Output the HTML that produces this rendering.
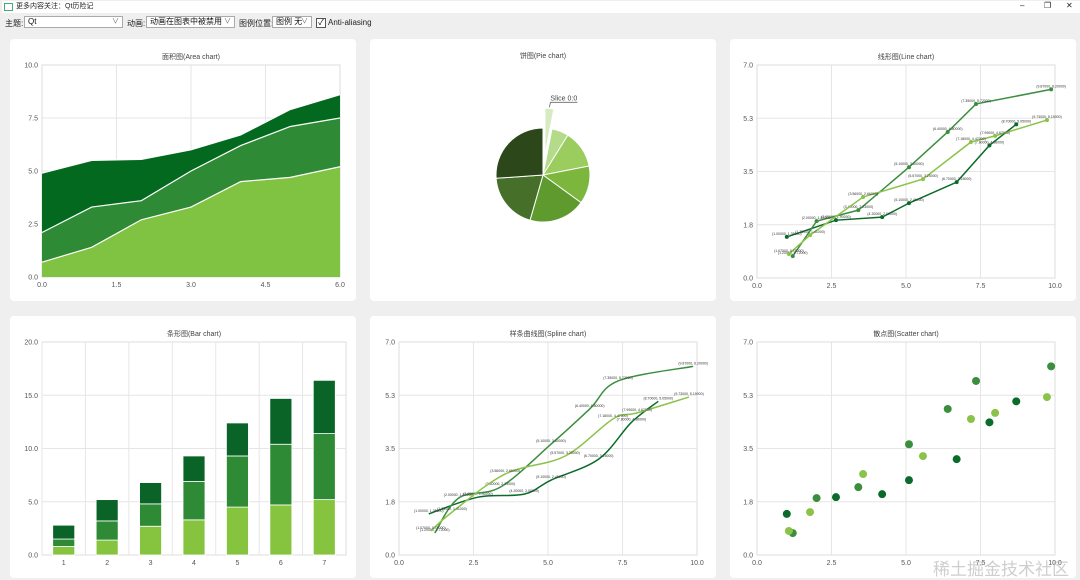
<!DOCTYPE html>
<html><head><meta charset="utf-8"><style>
body{margin:0;width:1080px;height:580px;background:#efefef;font-family:"Liberation Sans","Noto Sans CJK SC",sans-serif;overflow:hidden;position:relative}
.tb{position:absolute;font-size:8px;color:#222}
.combo{position:absolute;top:16px;height:12px;background:#fff;border:1px solid #aaa;box-sizing:border-box;font-size:8px;line-height:10px;padding-left:3px;color:#111}
.combo span.ch{position:absolute;right:3px;top:0;color:#666;font-size:7px}
.panel{position:absolute;background:#fff;border-radius:4px}
</style></head><body>
<div class="tb" style="left:2px;top:1px;width:1080px;height:12px;background:#fff">
 <span style="display:inline-block;width:7px;height:6px;border:1px solid #4a7;margin:2px 3px 0 2px;vertical-align:top"></span><span style="font-size:7px;vertical-align:top;line-height:11px">更多内容关注：Qt历险记</span>
 <span style="position:absolute;left:1018px;top:0;font-size:8px">–</span>
 <span style="position:absolute;left:1042px;top:0;font-size:8px">❐</span>
 <span style="position:absolute;left:1064px;top:0;font-size:8px">✕</span>
</div>
<div class="tb" style="left:5px;top:18px">主题:</div>
<div class="combo" style="left:24px;width:99px">Qt<span class="ch">∨</span></div>
<div class="tb" style="left:127px;top:18px">动画:</div>
<div class="combo" style="left:146px;width:89px">动画在图表中被禁用<span class="ch">∨</span></div>
<div class="tb" style="left:239px;top:18px">图例位置:</div>
<div class="combo" style="left:272px;width:40px">图例 无<span class="ch">∨</span></div>
<div style="position:absolute;left:316px;top:18px;width:8px;height:8px;border:1px solid #555;background:#fff;font-size:8px;line-height:8px;text-align:center">✓</div>
<div class="tb" style="left:328px;top:18px">Anti-aliasing</div>

<div class="panel" style="left:10px;top:39px;width:346px;height:262px"></div>
<div class="panel" style="left:370px;top:39px;width:346px;height:262px"></div>
<div class="panel" style="left:730px;top:39px;width:346px;height:262px"></div>
<div class="panel" style="left:10px;top:316px;width:346px;height:262px"></div>
<div class="panel" style="left:370px;top:316px;width:346px;height:262px"></div>
<div class="panel" style="left:730px;top:316px;width:346px;height:262px"></div>

<svg id="s" width="1080" height="580" style="position:absolute;left:0;top:0" xmlns="http://www.w3.org/2000/svg"></svg>
<div style="position:absolute;left:933px;top:555px;font-size:17px;color:rgba(185,185,185,0.7);white-space:nowrap">稀土掘金技术社区</div>

<script>
const areaX=[0,1,2,3,4,5,6];
const areaLow=[0.7,1.4,2.7,3.3,4.5,4.7,5.2];
const areaMid=[2.1,3.3,3.6,5.0,6.2,7.1,7.5];
const areaHigh=[4.9,5.5,5.55,6.0,6.7,7.9,8.6];
const areaXTicks=[0,1.5,3,4.5,6];
const areaYTicks=[0,2.5,5,7.5,10];

const pieValues=[11,21,47,47,70,70,94];
const pieLabel="Slice 0:0";

const seriesDarkX=[1.0,2.65,4.2,5.1,6.7,7.8,8.7];
const seriesDarkY=[1.35,1.9,2.0,2.46,3.15,4.36,5.05];
const seriesMidX=[1.2,2.0,3.4,5.1,6.4,7.35,9.87];
const seriesMidY=[0.72,1.87,2.23,3.64,4.8,5.72,6.2];
const seriesLightX=[1.07,1.78,3.56,5.57,7.18,7.99,9.73];
const seriesLightY=[0.79,1.41,2.66,3.25,4.47,4.67,5.19];
const xyXTicks=[0,2.5,5,7.5,10];
const xyYTicks=[0,1.75,3.5,5.25,7];
const xyYLabels=["0.0","1.8","3.5","5.3","7.0"];

const barCats=["1","2","3","4","5","6","7"];
const barLow=[0.8,1.4,2.7,3.3,4.5,4.7,5.2];
const barMid=[0.7,1.8,2.1,3.6,4.8,5.7,6.2];
const barHigh=[1.3,2.0,2.0,2.4,3.1,4.3,5.0];
const barYTicks=[0,5,10,15,20];

const S=document.getElementById('s');
const NS="http://www.w3.org/2000/svg";
function el(tag,attrs,parent){const e=document.createElementNS(NS,tag);for(const k in attrs)e.setAttribute(k,attrs[k]);(parent||S).appendChild(e);return e;}
function txt(x,y,str,size,anchor,fill,parent){const t=el('text',{x:x,y:y,'font-size':size,'text-anchor':anchor||'middle',fill:fill||'#555','font-family':'"Liberation Sans","Noto Sans CJK SC",sans-serif'},parent);t.textContent=str;return t;}
function lin(d0,d1,r0,r1){return v=>r0+(v-d0)/(d1-d0)*(r1-r0);}

function frame(title,px0,px1,py0,py1,xt,xl,yt,yl,sx,sy,name){
  const g=el('g',{});
  
  
  const t=txt((px0+px1)/2,py1-6,title,7,'middle','#444',g);
  
  
  xt.forEach((v,i)=>{const x=sx(v);el('line',{x1:x,x2:x,y1:py1,y2:py0,stroke:'#e6e6e6','stroke-width':1},g);
    const l=txt(x,py0+10,xl[i],7,'middle','#555',g);
    
    });
  yt.forEach((v,i)=>{const y=sy(v);el('line',{x1:px0,x2:px1,y1:y,y2:y,stroke:'#e6e6e6','stroke-width':1},g);
    const l=txt(px0-4,y+2.5,yl[i],7,'end','#555',g);
    
    });
  el('rect',{x:px0,y:py1,width:px1-px0,height:py0-py1,fill:'none',stroke:'#ddd','stroke-width':1},g);
  return g;
}

// AREA
(function(){
  const sx=lin(0,6,42,340), sy=lin(0,10,277,65);
  const g=frame('面积图(Area chart)',42,340,277,65,areaXTicks,areaXTicks.map(v=>v.toFixed(1)),areaYTicks,areaYTicks.map(v=>v.toFixed(1)),sx,sy,'area-chart');
  const layers=[[areaMid,areaHigh,'#02691f','area-series-top'],[areaLow,areaMid,'#2f8a35','area-series-middle'],[null,areaLow,'#80c342','area-series-bottom']];
  layers.forEach(([lo,hi,c,n])=>{
    let d='M'+areaX.map((x,i)=>sx(x)+','+sy(hi[i])).join(' L');
    for(let i=areaX.length-1;i>=0;i--)d+=' L'+sx(areaX[i])+','+sy(lo?lo[i]:0);
    const p=el('path',{d:d+'Z',fill:c},g);
    
    
    el('polyline',{points:areaX.map((x,i)=>sx(x)+','+sy(hi[i])).join(' '),fill:'none',stroke:'#fff','stroke-width':1.2},g);
  });
})();

// PIE
(function(){
  const cx=543,cy=175,r=47;
  const g=el('g',{});
  
  
  txt(543,58,'饼图(Pie chart)',7,'middle','#444',g);
  const cols=['#d7ebc3','#b3db8a','#9acd5e','#7db63d','#5f9a2f','#466f29','#2c4719'];
  const tot=pieValues.reduce((a,b)=>a+b,0);
  let a=0;
  pieValues.forEach((v,i)=>{
    const a0=a, a1=a+v/tot*2*Math.PI; a=a1;
    const mid=(a0+a1)/2, off=i===0?20:0;
    const ox=cx+off*Math.sin(mid), oy=cy-off*Math.cos(mid);
    const p0=[ox+r*Math.sin(a0),oy-r*Math.cos(a0)], p1=[ox+r*Math.sin(a1),oy-r*Math.cos(a1)];
    const large=(a1-a0)>Math.PI?1:0;
    const d=`M${ox},${oy} L${p0[0]},${p0[1]} A${r},${r} 0 ${large} 1 ${p1[0]},${p1[1]} Z`;
    const s=el('path',{d:d,fill:cols[i],stroke:'#fff','stroke-width':1},g);
    
    
    if(i===0){
      const tx=ox+r*Math.sin(mid), ty=oy-r*Math.cos(mid);
      el('polyline',{points:`${tx},${ty-1} ${tx+1},${ty-6} ${tx+28},${ty-6}`,fill:'none',stroke:'#666','stroke-width':0.8},g);
      const l=txt(tx+1,ty-8,pieLabel,7,'start','#444',g);
      
      
    }
  });
})();

const xyCols=['#0b6b2a','#3a8e3e','#8bc34a'];
function xyChart(title,px0,py0,name,mode){
  const sx=lin(0,10,px0,px0+298), sy=lin(0,7,py0,py0-213);
  const g=frame(title,px0,px0+298,py0,py0-213,xyXTicks,xyXTicks.map(v=>v.toFixed(1)),xyYTicks,xyYLabels,sx,sy,name);
  const series=[[seriesDarkX,seriesDarkY],[seriesMidX,seriesMidY],[seriesLightX,seriesLightY]];
  series.forEach(([X,Y],k)=>{
    const pts=X.map((x,i)=>[sx(x),sy(Y[i])]);
    if(mode==='scatter'){
      pts.forEach(p=>{const c=el('circle',{cx:p[0],cy:p[1],r:4,fill:xyCols[k]},g);
        
        });
      return;
    }
    let d='M'+pts[0].join(',');
    if(mode==='spline'){
      for(let i=0;i<pts.length-1;i++){
        const p0=pts[Math.max(i-1,0)],p1=pts[i],p2=pts[i+1],p3=pts[Math.min(i+2,pts.length-1)];
        const c1=[p1[0]+(p2[0]-p0[0])/6,p1[1]+(p2[1]-p0[1])/6],c2=[p2[0]-(p3[0]-p1[0])/6,p2[1]-(p3[1]-p1[1])/6];
        d+=` C${c1.join(',')} ${c2.join(',')} ${p2.join(',')}`;
      }
    } else d+=' L'+pts.slice(1).map(p=>p.join(',')).join(' L');
    const p=el('path',{d:d,fill:'none',stroke:xyCols[k],'stroke-width':1.5},g);
    
    
    pts.forEach((pt,i)=>{
      if(mode==='line'){el('circle',{cx:pt[0],cy:pt[1],r:2,fill:xyCols[k]},g);}
      const l=txt(pt[0],pt[1]-2,'('+X[i].toFixed(5)+', '+Y[i].toFixed(5)+')',3.5,'middle','#333',g);
      
      
    });
  });
}
xyChart('线形图(Line chart)',757,278,'line-chart','line');
xyChart('样条曲线图(Spline chart)',399,555,'spline-chart','spline');
xyChart('散点图(Scatter chart)',757,555,'scatter-chart','scatter');

// BAR
(function(){
  const px0=42,px1=346,band=(px1-px0)/barCats.length;
  const sy=lin(0,20,555,342);
  const sxc=i=>px0+band*(i+0.5);
  const g=frame('条形图(Bar chart)',px0,px1,555,342,[],[],barYTicks,barYTicks.map(v=>v.toFixed(1)),v=>v,sy,'bar-chart');
  barCats.forEach((c,i)=>{
    const x=px0+band*i; el('line',{x1:x,x2:x,y1:342,y2:555,stroke:'#e6e6e6'},g);
    const l=txt(sxc(i),565,c,7,'middle','#555',g);
    
    
  });
  const sets=[[barLow,'#86c440'],[barMid,'#2f8a35'],[barHigh,'#0a6428']];
  const base=barCats.map(()=>0);
  sets.forEach(([vals,col],k)=>{
    vals.forEach((v,i)=>{
      const y0=sy(base[i]),y1=sy(base[i]+v);base[i]+=v;
      const r=el('rect',{x:sxc(i)-11,y:y1,width:22,height:y0-y1,fill:col,stroke:'#fff','stroke-width':0.8},g);
      
      
    });
  });
})();
</script>
</body></html>
